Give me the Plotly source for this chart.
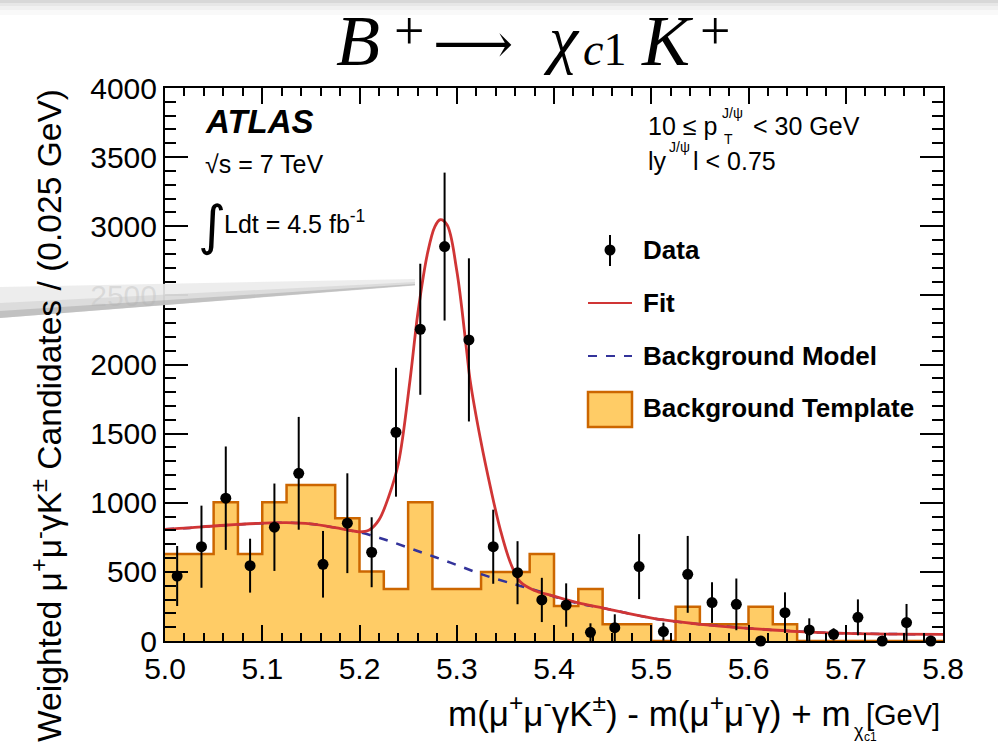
import plotly.graph_objects as go

# ---- histogram binning (GeV) ----
X_MIN, X_MAX, BIN_W = 5.0, 5.8, 0.025
N_BINS = 32

# weighted candidates per bin (data) and their uncertainties
DATA = [470, 682, 1033, 545, 823, 1213, 555, 852, 642, 1510, 2255, 2853, 2178, 682, 494, 297,
        260, 63, 96, 538, 68, 482, 278, 265, 0, 205, 80, 48, 171, 0, 133, 0]
ERR = [217, 297, 374, 195, 316, 408, 241, 361, 253, 466, 474, 535, 590, 268, 228, 160,
       157, 65, 97, 235, 65, 278, 147, 187, 0, 147, 84, 44, 130, 0, 135, 0]

# background template, per bin
TEMPLATE = [630, 630, 1004, 630, 1004, 1129, 1129, 888, 502, 376, 1004, 376, 376, 500, 500, 630,
            253, 376, 121, 121, 0, 248, 121, 121, 248, 121, 0, 0, 0, 0, 0, 0]

# fitted total model and background model, sampled along the mass axis
FIT_X = [5.000, 5.025, 5.050, 5.075, 5.100, 5.125, 5.150, 5.175, 5.190, 5.200, 5.210, 5.220,
         5.230, 5.240, 5.252, 5.260, 5.270, 5.2775, 5.283, 5.290, 5.300, 5.310, 5.3137, 5.3245,
         5.335, 5.345, 5.355, 5.365, 5.380, 5.397, 5.425, 5.452, 5.502, 5.551, 5.600, 5.652,
         5.701, 5.750, 5.800]
FIT_Y = [808, 818, 832, 843, 852, 856, 847, 820, 800, 790, 803, 876,
         1044, 1286, 1890, 2371, 2806, 2998, 3047, 3010, 2680, 2110, 1889, 1455,
         1100, 800, 570, 430, 365, 330, 275, 236, 164, 121, 92, 68,
         55, 50, 48]
BKG_X = [5.000, 5.025, 5.050, 5.075, 5.100, 5.125, 5.150, 5.175, 5.190, 5.200, 5.225, 5.259,
         5.2935, 5.3275, 5.362, 5.386, 5.400, 5.425, 5.452, 5.502, 5.551, 5.600, 5.652, 5.701,
         5.750, 5.800]
BKG_Y = [808, 818, 832, 843, 852, 856, 847, 820, 800, 787, 736, 653,
         567, 478, 405, 357, 322, 272, 236, 164, 121, 92, 68, 55,
         50, 48]

FILL = "#ffcc66"
EDGE = "#cc6600"
RED = "#d03535"
BLUE = "#33339a"
SANS = "Liberation Sans, Arial, Helvetica, sans-serif"
SERIF = "Liberation Serif, Times New Roman, serif"

edges = [X_MIN + i * BIN_W for i in range(N_BINS + 1)]
centers = [X_MIN + (i + 0.5) * BIN_W for i in range(N_BINS)]

fig = go.Figure()

# background template as a filled step histogram
fig.add_trace(go.Scatter(
    x=edges, y=TEMPLATE + [TEMPLATE[-1]], mode="lines", line_shape="hv",
    line=dict(color=EDGE, width=2.5), fill="tozeroy", fillcolor=FILL,
    hoverinfo="skip", showlegend=False))

fig.add_trace(go.Scatter(
    x=BKG_X, y=BKG_Y, mode="lines", line_shape="spline",
    line=dict(color=BLUE, width=2.5, dash="dash"), showlegend=False))

fig.add_trace(go.Scatter(
    x=FIT_X, y=FIT_Y, mode="lines", line_shape="spline",
    line=dict(color=RED, width=2.8), showlegend=False))

fig.add_trace(go.Scatter(
    x=centers, y=DATA, mode="markers",
    marker=dict(color="black", size=11),
    error_y=dict(type="data", symmetric=False, array=ERR,
                 arrayminus=[min(e, v) for e, v in zip(ERR, DATA)],
                 color="black", thickness=2, width=0),
    cliponaxis=False, showlegend=False))

# plot frame in pixels: x 165..943, y 88..641
L, R, T, B = 165, 943, 88, 641


def P(xp, yp):
    return (xp - L) / (R - L), (B - yp) / (B - T)


annotations = []
shapes = []


def text(xp, yp, s, size, family=SANS, xanchor="left", yanchor="middle", **kw):
    x, y = P(xp, yp)
    annotations.append(dict(x=x, y=y, xref="paper", yref="paper", text=s, showarrow=False,
                            xanchor=xanchor, yanchor=yanchor,
                            font=dict(family=family, size=size, color="black"), **kw))


# title, B+ -> chi_c1 K+, set piece by piece
text(358, 41, "<i>B</i>", 72, family=SERIF, xanchor="center")
text(409, 31, "+", 54, family=SERIF, xanchor="center")
text(473, 44, "⟶", 56, family="DejaVu Serif", xanchor="center")
text(561, 39, "<i>χ</i>", 66, family=SERIF, xanchor="center")
text(604, 50, "<i>c</i>1", 46, family=SERIF, xanchor="center")
text(667, 41, "<i>K</i>", 72, family=SERIF, xanchor="center")
text(715, 31, "+", 54, family=SERIF, xanchor="center")

# experiment labels
text(203, 122, "<b><i>ATLAS</i></b>", 33)
text(203, 164, "√s = 7 TeV", 25)
text(196, 225, "∫", 54, family="DejaVu Sans")
text(222, 222, "Ldt = 4.5 fb<sup>-1</sup>", 25)

# kinematic selection
text(646, 126, "10 ≤ p", 25)
text(720, 113, "J/ψ", 14)
text(722, 139, "T", 14)
text(751, 126, "< 30 GeV", 25)
text(646, 161, "ly", 25)
text(667, 147, "J/ψ", 14)
text(691, 161, "l < 0.75", 25)

# legend
text(641, 250, "<b>Data</b>", 26)
text(641, 303, "<b>Fit</b>", 26)
text(641, 356, "<b>Background Model</b>", 26)
text(641, 408, "<b>Background Template</b>", 26)


def rect_px(x0, y0, x1, y1, **kw):
    a0, b0 = P(x0, y0)
    a1, b1 = P(x1, y1)
    shapes.append(dict(type="rect", xref="paper", yref="paper",
                       x0=a0, y0=b0, x1=a1, y1=b1, **kw))


def line_px(x0, y0, x1, y1, **kw):
    a0, b0 = P(x0, y0)
    a1, b1 = P(x1, y1)
    shapes.append(dict(type="line", xref="paper", yref="paper",
                       x0=a0, y0=b0, x1=a1, y1=b1, **kw))


line_px(610, 235, 610, 266, line=dict(color="black", width=2))
shapes.append(dict(type="circle", xref="paper", yref="paper",
                   x0=P(604.5, 0)[0], x1=P(615.5, 0)[0],
                   y0=P(0, 255.5)[1], y1=P(0, 244.5)[1],
                   fillcolor="black", line=dict(color="black", width=0)))
line_px(588, 303, 632, 303, line=dict(color=RED, width=2))
line_px(588, 356, 632, 356, line=dict(color=BLUE, width=2, dash="dash"))
rect_px(588, 392, 632, 427, fillcolor=FILL, line=dict(color=EDGE, width=2.5))

# axis titles
text(47, 416, "Weighted μ<sup>+</sup>μ<sup>-</sup>γK<sup>±</sup> Candidates / (0.025 GeV)",
     33.6, xanchor="center", yanchor="middle", textangle=-90)
text(853, 711, "m(μ<sup>+</sup>μ<sup>-</sup>γK<sup>±</sup>) - m(μ<sup>+</sup>μ<sup>-</sup>γ) + m",
     35, xanchor="right")
text(852, 731, "χ", 18)
text(862, 737, "c1", 12)
text(942, 715, "[GeV]", 29, xanchor="right")


# sheen across the top and a folded streak on the left
def poly_px(pts, **kw):
    path = "M " + " L ".join("%.5f,%.5f" % P(xp, yp) for xp, yp in pts) + " Z"
    shapes.append(dict(type="path", xref="paper", yref="paper", path=path, layer="above", **kw))


for h, a in [(3, 0.06), (6, 0.04), (10, 0.03), (15, 0.025)]:
    rect_px(0, 0, 998, h, fillcolor="rgba(0,0,0,%.3f)" % a, line=dict(width=0), layer="above")

poly_px([(0, 287), (415, 279), (415, 285), (0, 318)], fillcolor="rgba(236,236,236,0.92)",
        line=dict(width=0))
poly_px([(0, 303), (415, 282), (415, 285), (0, 318)], fillcolor="rgba(200,200,200,0.45)",
        line=dict(width=0))
poly_px([(0, 311), (415, 284), (415, 285.5), (0, 318)], fillcolor="rgba(160,160,160,0.45)",
        line=dict(width=0))

fig.update_layout(
    width=998, height=748,
    margin=dict(l=L, r=998 - R, t=T, b=748 - B),
    paper_bgcolor="white", plot_bgcolor="white",
    font=dict(family=SANS, color="black"),
    annotations=annotations, shapes=shapes, showlegend=False,
    xaxis=dict(range=[X_MIN, X_MAX], dtick=0.1, tick0=5.0, tickformat=".1f",
               showgrid=False, zeroline=False, showline=True, linecolor="black", linewidth=2,
               mirror="ticks", ticks="inside", ticklen=16, tickwidth=1.5, tickcolor="black",
               tickfont=dict(size=30, family=SANS),
               minor=dict(dtick=0.02, ticks="inside", ticklen=8, tickwidth=1.5,
                          tickcolor="black", showgrid=False)),
    yaxis=dict(range=[0, 4000], dtick=500, tick0=0,
               showgrid=False, zeroline=False, showline=True, linecolor="black", linewidth=2,
               mirror="ticks", ticks="inside", ticklen=23, tickwidth=1.5, tickcolor="black",
               tickfont=dict(size=30, family=SANS),
               minor=dict(dtick=100, ticks="inside", ticklen=11, tickwidth=1.5,
                          tickcolor="black", showgrid=False)),
)

fig.write_html("out.html")
